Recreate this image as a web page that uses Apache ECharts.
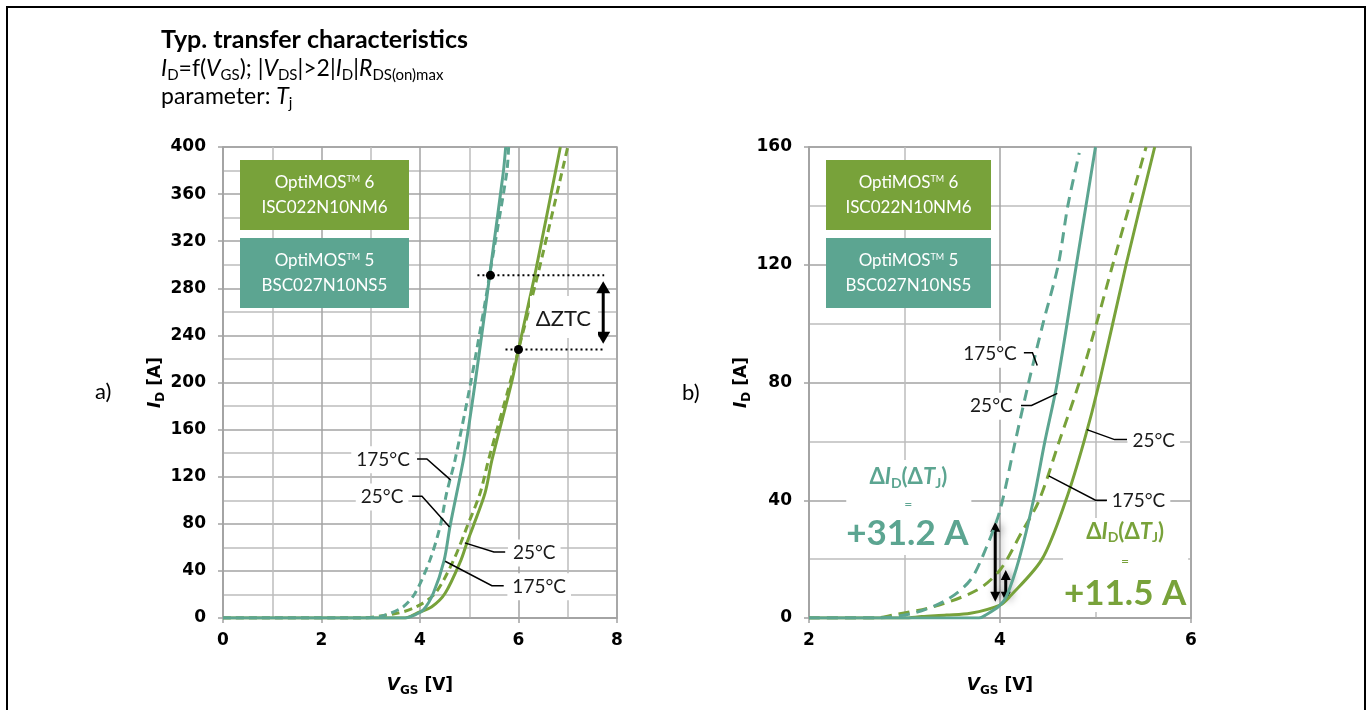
<!DOCTYPE html>
<html>
<head>
<meta charset="utf-8">
<script src="https://cdn.jsdelivr.net/npm/echarts@6/dist/echarts.min.js"></script>
<style>
html, body { margin: 0; padding: 0; background: #fff; }
#main { width: 1370px; height: 710px; }
</style>
</head>
<body>
<div id="main"></div>
<script>
// colours of the two product families
var green = '#78a23a';
var teal = '#5ca591';

// a) full range, points are [VGS (V), ID (A)]
var aTeal25 = [[0,0],[3.7,0],[3.86,2],[4.07,7],[4.27,21],[4.49,49],[4.61,78],[4.88,134],[4.98,160],[5.12,200],[5.35,270],[5.42,293],[5.69,378],[5.74,400]];
var aTeal175 = [[0,0],[2.8,0],[3.25,2],[3.66,9.6],[3.9,21],[4.2,49],[4.41,78],[4.54,106],[4.71,134],[5.03,200],[5.33,270],[5.42,293],[5.76,378],[5.8,400]];
var aGreen25 = [[0,0],[3.7,0],[3.93,4],[4.24,9.6],[4.51,21],[4.83,49],[4.95,63.5],[5.08,78],[5.32,106],[5.46,134],[5.86,200],[6.0,228],[6.22,270],[6.34,293],[6.85,400]];
var aGreen175 = [[0,0],[2.75,0],[3.53,4],[3.93,9.6],[4.31,21],[4.68,49],[4.96,78],[5.22,106],[5.39,134],[5.83,200],[6.0,228],[6.4,293],[7.0,400]];

// b) zoom 2..6 V
var bTeal25 = [[2,0],[3.78,0],[3.85,1],[3.99,4],[4.07,7.5],[4.2,20],[4.35,40],[4.47,60],[4.6,80],[4.8,120],[4.9,140],[5.0,160]];
var bTeal175 = [[2,0],[2.7,0],[3.09,1.6],[3.44,6.1],[3.69,12.9],[3.86,24.2],[4.0,36.6],[4.16,60],[4.3,80],[4.45,100],[4.61,120],[4.71,140],[4.83,158]];
var bGreen25 = [[2,0],[3.0,0],[3.18,0.5],[3.44,1],[3.69,1.6],[4.0,4.4],[4.1,7.2],[4.44,20],[4.69,40],[4.88,60],[5.04,80],[5.32,120],[5.62,160]];
var bGreen175 = [[2,0],[2.7,0],[2.88,1],[3.3,3.8],[3.76,9.5],[4.0,16.3],[4.22,28.7],[4.41,40],[4.62,60],[4.83,80],[5.01,100],[5.18,120],[5.53,160]];

// annotations (data coords)
var ztcDots = [[5.43, 291], [6.0, 228]];
var ztcArrow = [7.72, 286, 233];
var bArrows = [[3.95, 32.7, 5.5], [4.06, 16.3, 5.5]];
// label text, text position, leader polyline
var aTempLabels = [
	['175°C', [3.25, 134.3], [[3.94,135.1],[4.14,135.1],[4.62,117.3]]],
	['25°C', [3.23, 102.7], [[3.84,103.5],[4.04,103.5],[4.6,77.3]]],
	['25°C', [6.32, 55.3], [[4.91,63.8],[5.5,56.1],[5.73,56.1]]],
	['175°C', [6.42, 26.5], [[4.51,48.2],[5.46,27.4],[5.7,27.4]]]
];
var bTempLabels = [
	['175°C', [3.895, 89.6], [[4.25,90.1],[4.34,90.1],[4.39,85.8]]],
	['25°C', [3.91, 71.9], [[4.22,72.2],[4.33,72.2],[4.6,76.3]]],
	['25°C', [5.61, 60.2], [[4.91,64],[5.2,60.6],[5.33,60.6]]],
	['175°C', [5.45, 39.8], [[4.51,48.3],[5.0,40],[5.12,40]]]
];

var gridGrey = '#a3a3a3';
var minorGrey = '#bdbdbd';
var nameRich = {
	v: { fontFamily: 'DejaVu Sans', fontWeight: 'bold', fontStyle: 'italic', fontSize: 17, lineHeight: 22, color: '#000' },
	s: { fontFamily: 'DejaVu Sans', fontWeight: 'bold', fontSize: 12, lineHeight: 12, verticalAlign: 'bottom', color: '#000' },
	n: { fontFamily: 'DejaVu Sans', fontWeight: 'bold', fontSize: 17, lineHeight: 22, color: '#000' }
};

function mkX(g, min, max) {
	return {
		type: 'value', gridIndex: g, min: min, max: max, interval: 2,
		name: '{v|V}{s|GS}{n| [V]}', nameLocation: 'middle', nameGap: 57,
		nameTextStyle: { rich: nameRich },
		axisLine: { lineStyle: { color: gridGrey, width: 1.5 } },
		axisTick: { show: true, length: 5, lineStyle: { color: gridGrey, width: 1.5 } },
		axisLabel: { color: '#000', fontFamily: 'DejaVu Sans', fontWeight: 'bold', fontSize: 17, margin: 14 },
		splitLine: { lineStyle: { color: gridGrey, width: 1.5 } },
		minorTick: { show: false, splitNumber: 2 },
		minorSplitLine: { show: true, lineStyle: { color: minorGrey, width: 1.5 } }
	};
}
function mkY(g, max) {
	return {
		type: 'value', gridIndex: g, min: 0, max: max, interval: 40,
		name: '{v|I}{s|D}{n| [A]}', nameLocation: 'middle', nameGap: 50, nameRotate: 90,
		nameTextStyle: { rich: nameRich },
		axisLine: { lineStyle: { color: gridGrey, width: 1.5 } },
		axisTick: { show: true, length: 5, lineStyle: { color: gridGrey, width: 1.5 } },
		axisLabel: { color: '#000', fontFamily: 'DejaVu Sans', fontWeight: 'bold', fontSize: 17, margin: 17 },
		splitLine: { lineStyle: { color: gridGrey, width: 1.5 } },
		minorTick: { show: false, splitNumber: 2 },
		minorSplitLine: { show: true, lineStyle: { color: minorGrey, width: 1.5 } }
	};
}
function curve(g, data, color, dash) {
	return {
		type: 'line', xAxisIndex: g, yAxisIndex: g, data: data,
		showSymbol: false, smooth: 0.3, silent: true,
		lineStyle: { color: color, width: 3, type: dash ? dash : 'solid' }
	};
}

var myChart = echarts.init(document.getElementById('main'));
var option = {
	animation: false,
	grid: [
		{ left: 223, top: 147, width: 394, height: 471, show: true, borderColor: gridGrey, borderWidth: 1.5 },
		{ left: 809, top: 147, width: 382, height: 471, show: true, borderColor: gridGrey, borderWidth: 1.5 }
	],
	xAxis: [mkX(0, 0, 8), mkX(1, 2, 6)],
	yAxis: [mkY(0, 400), mkY(1, 160)],
	series: [
		curve(0, aGreen175, green, [8, 5]),
		curve(0, aGreen25, green),
		curve(0, aTeal175, teal, [8, 5]),
		curve(0, aTeal25, teal),
		curve(1, bGreen175, green, [11, 7]),
		curve(1, bGreen25, green),
		curve(1, bTeal175, teal, [11, 7]),
		curve(1, bTeal25, teal)
	]
};
myChart.setOption(option);

function px(g, p) {
	return myChart.convertToPixel({ xAxisIndex: g, yAxisIndex: g }, p);
}
var txtFont = 'Lato';

function arrow(g, v, i1, i2, w, h, shadow) {
	var a = px(g, [v, i1]), b = px(g, [v, i2]);
	var top = Math.min(a[1], b[1]), bot = Math.max(a[1], b[1]), x = a[0];
	var st = { fill: '#000' };
	if (shadow) { st.shadowBlur = 8; st.shadowColor = 'rgba(0,0,0,0.45)'; st.shadowOffsetX = 3; }
	return { type: 'group', z: 20, children: [
		{ type: 'line', shape: { x1: x, y1: top + h - 1, x2: x, y2: bot - h + 1 }, style: { stroke: '#000', lineWidth: 3, shadowBlur: shadow ? 8 : 0, shadowColor: 'rgba(0,0,0,0.45)', shadowOffsetX: shadow ? 3 : 0 } },
		{ type: 'polygon', shape: { points: [[x, top], [x - w, top + h], [x + w, top + h]] }, style: st },
		{ type: 'polygon', shape: { points: [[x, bot], [x - w, bot - h], [x + w, bot - h]] }, style: st }
	] };
}

function tempLabels(g, list) {
	var out = [];
	list.forEach(function (l) {
		var c = px(g, l[1]);
		out.push({ type: 'text', x: c[0], y: c[1], z: 15, style: {
			text: l[0], fill: '#1a1a1a', fontFamily: txtFont, fontSize: 19, align: 'center', verticalAlign: 'middle',
			backgroundColor: '#fff', padding: [4, 5]
		} });
		out.push({ type: 'polyline', z: 16, shape: { points: l[2].map(function (p) { return px(g, p); }) },
			style: { stroke: '#000', lineWidth: 1.5, fill: null } });
	});
	return out;
}

function box(x, y, w, h, color, line1, line2) {
	return { type: 'group', z: 12, children: [
		{ type: 'rect', shape: { x: x, y: y, width: w, height: h }, style: { fill: color } },
		{ type: 'text', x: x + w / 2, y: y + h / 2, style: {
			text: '{a|OptiMOS}{tm|TM}{a| ' + line1 + '}\n{a|' + line2 + '}', align: 'center', verticalAlign: 'middle',
			rich: {
				a: { fill: '#fff', fontFamily: txtFont, fontSize: 17, lineHeight: 25, align: 'center' },
				tm: { fill: '#fff', fontFamily: txtFont, fontSize: 9, lineHeight: 25, verticalAlign: 'top', padding: [5, 0, 0, 0] }
			}
		} }
	] };
}

var subRich = {
	n: { fill: '#000', fontFamily: txtFont, fontSize: 23, lineHeight: 28 },
	i: { fill: '#000', fontFamily: txtFont, fontSize: 23, fontStyle: 'italic', lineHeight: 28 },
	s: { fill: '#000', fontFamily: txtFont, fontSize: 15, lineHeight: 15, verticalAlign: 'bottom' }
};

function deltaText(c, color, value) {
	var rich = {
		b: { fill: color, fontFamily: txtFont, fontWeight: 'bold', fontSize: 22, lineHeight: 26 },
		bi: { fill: color, fontFamily: txtFont, fontWeight: 'bold', fontStyle: 'italic', fontSize: 22, lineHeight: 26 },
		s: { fill: color, fontFamily: txtFont, fontWeight: 'bold', fontSize: 14, lineHeight: 14, verticalAlign: 'bottom' }
	};
	return [
		{ type: 'text', x: c[0][0], y: c[0][1], z: 15, style: { text: '{b|Δ}{bi|I}{s|D}{b|(Δ}{bi|T}{s|J}{b|)}', align: 'center', verticalAlign: 'middle', rich: rich } },
		{ type: 'text', x: c[1][0], y: c[1][1], z: 15, style: { text: '=', fill: color, fontFamily: txtFont, fontSize: 14, align: 'center', verticalAlign: 'middle' } },
		{ type: 'text', x: c[2][0], y: c[2][1], z: 15, style: { text: value, fill: color, fontFamily: txtFont, fontWeight: 'bold', fontSize: 35, align: 'center', verticalAlign: 'middle' } }
	];
}

var g = [];
// outer frame
g.push({ type: 'rect', z: 1, shape: { x: 7, y: 7, width: 1358, height: 730 }, style: { fill: null, stroke: '#000', lineWidth: 2 } });
// heading
g.push({ type: 'text', x: 161, y: 40, style: { text: 'Typ. transfer characteristics', fill: '#000', fontFamily: txtFont, fontWeight: 'bold', fontSize: 25, verticalAlign: 'middle' } });
g.push({ type: 'text', x: 161, y: 69, style: { text: '{i|I}{s|D}{n|=f(}{i|V}{s|GS}{n|); |}{i|V}{s|DS}{n||>2|}{i|I}{s|D}{n||}{i|R}{s|DS(on)max}', verticalAlign: 'middle', rich: subRich } });
g.push({ type: 'text', x: 161, y: 97, style: { text: '{n|parameter: }{i|T}{s|j}', verticalAlign: 'middle', rich: subRich } });
g.push({ type: 'text', x: 95, y: 392, style: { text: 'a)', fill: '#000', fontFamily: txtFont, fontSize: 22, verticalAlign: 'middle' } });
g.push({ type: 'text', x: 682, y: 393, style: { text: 'b)', fill: '#000', fontFamily: txtFont, fontSize: 22, verticalAlign: 'middle' } });

// product boxes
g.push(box(240, 160, 169, 70, green, '6', 'ISC022N10NM6'));
g.push(box(240, 238, 169, 70, teal, '5', 'BSC027N10NS5'));
g.push(box(826, 160, 165, 70, green, '6', 'ISC022N10NM6'));
g.push(box(826, 238, 165, 70, teal, '5', 'BSC027N10NS5'));

// zero temperature coefficient marks (a)
var d1 = px(0, ztcDots[0]), d2 = px(0, ztcDots[1]);
var xEnd = px(0, [ztcArrow[0] + 0.02, 0])[0];
g.push({ type: 'rect', z: 13, shape: { x: 530, y: 296, width: 68, height: 42 }, style: { fill: '#fff' } });
g.push({ type: 'line', z: 14, shape: { x1: d1[0] - 13, y1: d1[1], x2: xEnd, y2: d1[1] }, style: { stroke: '#000', lineWidth: 2, lineDash: [2, 3] } });
g.push({ type: 'line', z: 14, shape: { x1: d2[0] - 13, y1: d2[1], x2: xEnd, y2: d2[1] }, style: { stroke: '#000', lineWidth: 2, lineDash: [2, 3] } });
g.push({ type: 'circle', z: 15, shape: { cx: d1[0], cy: d1[1], r: 4.5 }, style: { fill: '#000' } });
g.push({ type: 'circle', z: 15, shape: { cx: d2[0], cy: d2[1], r: 4.5 }, style: { fill: '#000' } });
g.push(arrow(0, ztcArrow[0], ztcArrow[1], ztcArrow[2], 7, 12, false));
var zt = px(0, [6.91, 254.4]);
g.push({ type: 'text', x: zt[0], y: zt[1], z: 15, style: { text: 'ΔZTC', fill: '#1a1a1a', fontFamily: txtFont, fontSize: 22, align: 'center', verticalAlign: 'middle' } });

g = g.concat(tempLabels(0, aTempLabels));
g = g.concat(tempLabels(1, bTempLabels));

// delta labels (b)
var tb1 = px(1, [2.39, 53.7]), tb2 = px(1, [3.7, 21.4]);
g.push({ type: 'rect', z: 13, shape: { x: tb1[0], y: tb1[1], width: tb2[0] - tb1[0], height: tb2[1] - tb1[1] }, style: { fill: '#fff' } });
var gb1 = px(1, [4.66, 34]), gb2 = px(1, [5.97, 2]);
g.push({ type: 'rect', z: 13, shape: { x: gb1[0], y: gb1[1], width: gb2[0] - gb1[0], height: gb2[1] - gb1[1] }, style: { fill: '#fff' } });
g = g.concat(deltaText([px(1, [3.04, 47.9]), px(1, [3.04, 38.6]), px(1, [3.03, 28.7])], teal, '+31.2 A'));
g = g.concat(deltaText([px(1, [5.31, 29.3]), px(1, [5.31, 19.1]), px(1, [5.31, 8.4])], green, '+11.5 A'));
g.push(arrow(1, bArrows[0][0], bArrows[0][1], bArrows[0][2], 5, 10, true));
g.push(arrow(1, bArrows[1][0], bArrows[1][1], bArrows[1][2], 5, 10, true));

myChart.setOption({ graphic: g });
</script>
</body>
</html>
